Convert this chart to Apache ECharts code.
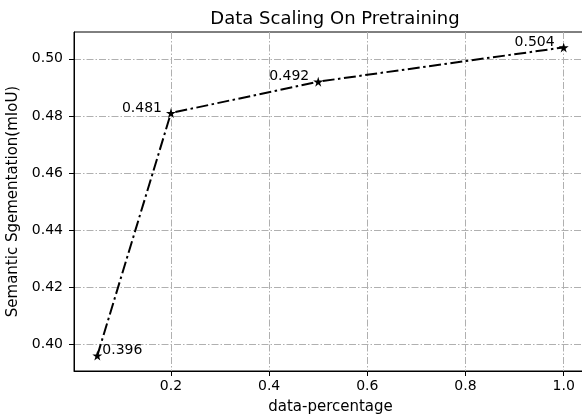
<!DOCTYPE html>
<html>
<head>
<meta charset="utf-8">
<script src="https://cdn.jsdelivr.net/npm/echarts@6/dist/echarts.min.js"></script>
<style>
  html, body { margin: 0; padding: 0; background: #fff; }
  #chart { width: 582px; height: 419px; }
</style>
</head>
<body>
<div id="chart"></div>
<script>
// data
const dataPercent = [0.05, 0.2, 0.5, 1.0]
const miou = [0.396, 0.481, 0.492, 0.504]
const xTicks = [0.2, 0.4, 0.6, 0.8, 1.0]
const yTicks = [0.40, 0.42, 0.44, 0.46, 0.48, 0.50]

const font = 'DejaVu Sans'
const star = 'path://M50,0 L61,35 L98,35 L68,57 L79,91 L50,70 L21,91 L32,57 L2,35 L39,35 Z'
const gridDash = [7, 2, 1.5, 2]

const chart = echarts.init(document.getElementById('chart'))

// first label sits right of its point, the rest to the left
const points = dataPercent.map((x, i) => {
  const first = i === 0
  return {
    value: [x, miou[i]],
    label: {
      show: true,
      formatter: miou[i].toFixed(3),
      position: first ? 'right' : 'left',
      distance: first ? 0 : 4,
      offset: [0, -5]
    }
  }
})

chart.setOption({
  animation: false,
  textStyle: { fontFamily: font },
  title: {
    text: 'Data Scaling On Pretraining',
    left: 330,
    top: 5,
    textAlign: 'center',
    textStyle: { fontFamily: font, fontSize: 18, fontWeight: 'normal', color: '#000' }
  },
  grid: {
    left: 74,
    top: 32,
    width: 513,
    height: 339,
    containLabel: false,
    outerBoundsMode: 'none',
    show: true,
    borderColor: '#000',
    borderWidth: 1
  },
  xAxis: {
    type: 'value',
    min: 0.0025,
    max: 1.0475,
    name: 'data-percentage',
    nameLocation: 'middle',
    nameGap: 29,
    nameTextStyle: { fontFamily: font, fontSize: 15, color: '#000' },
    axisLine: { lineStyle: { color: '#000', width: 1 } },
    axisTick: { show: true, length: 5, customValues: xTicks, lineStyle: { color: '#000' } },
    axisLabel: {
      customValues: xTicks,
      margin: 8,
      fontSize: 14,
      color: '#000',
      formatter: v => v.toFixed(1)
    },
    splitLine: { show: true, lineStyle: { color: '#b0b0b0', type: gridDash, width: 1 } }
  },
  yAxis: {
    type: 'value',
    min: 0.3906,
    max: 0.5094,
    name: 'Semantic Sgementation(mIoU)',
    nameLocation: 'middle',
    nameGap: 51,
    nameTextStyle: { fontFamily: font, fontSize: 15, color: '#000' },
    axisLine: { show: true, lineStyle: { color: '#000', width: 1 } },
    axisTick: { show: true, length: 5, customValues: yTicks, lineStyle: { color: '#000' } },
    axisLabel: {
      customValues: yTicks,
      margin: 11,
      fontSize: 14,
      color: '#000',
      formatter: v => v.toFixed(2)
    },
    splitLine: { show: true, lineStyle: { color: '#b0b0b0', type: gridDash, width: 1 } }
  },
  series: [{
    type: 'line',
    data: points,
    symbol: star,
    symbolSize: 10,
    itemStyle: { color: '#000' },
    lineStyle: { color: '#000', width: 2, type: [12, 3.5, 2.5, 3.5] },
    label: { fontFamily: font, fontSize: 14, color: '#000' }
  }]
})
</script>
</body>
</html>
